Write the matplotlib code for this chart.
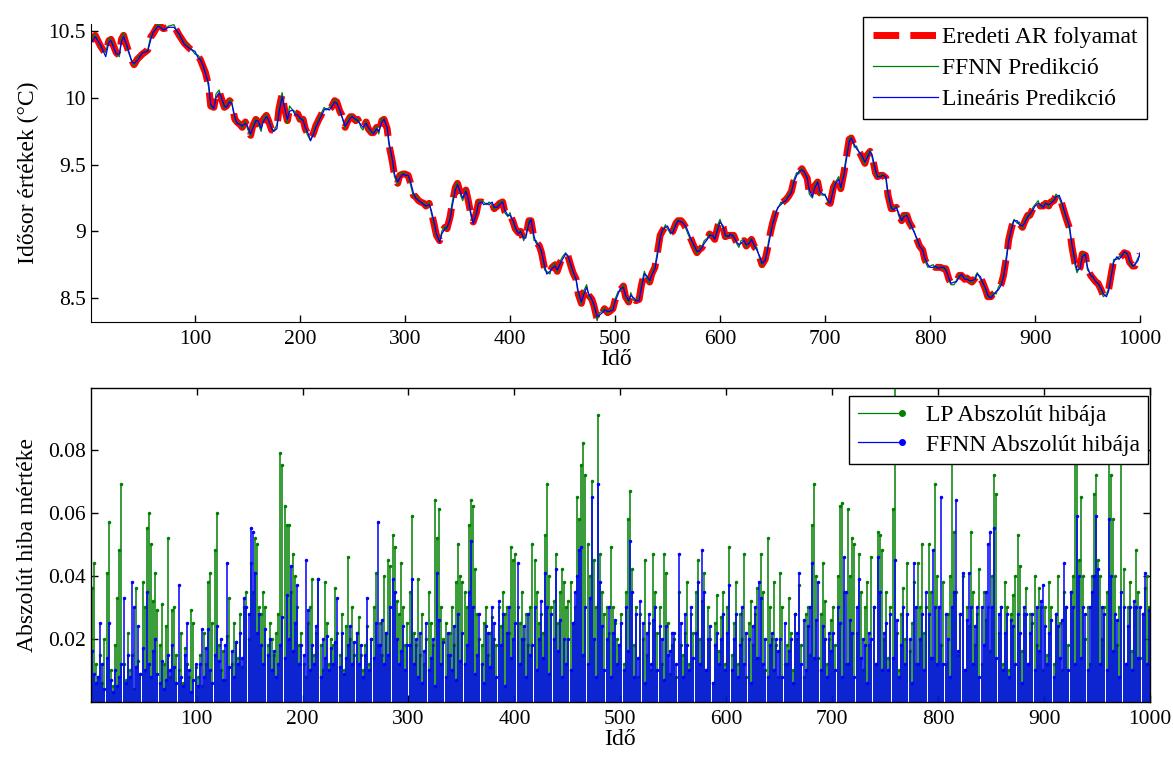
import matplotlib

matplotlib.use("Agg")
import matplotlib.pyplot as plt
import numpy as np
from matplotlib.legend_handler import HandlerBase
from matplotlib.lines import Line2D
from matplotlib.ticker import FormatStrFormatter

plt.rcParams["font.family"] = ["Liberation Serif", "DejaVu Serif"]
plt.rcParams["font.size"] = 15.5

# --- top panel: AR process and its two predictions ---
ar_t = [1, 5, 10, 15, 18, 20, 25, 28, 30, 32, 35, 40, 42, 45, 50, 55, 58, 60, 65, 70, 75, 80, 85, 90, 95] \
    + [d + k for d in range(100, 1000, 10) for k in (0, 3, 5, 8)] + [1000]

ar_v = [
    10.43, 10.47, 10.39, 10.33, 10.43, 10.44, 10.34, 10.32, 10.44, 10.47, 10.39, 10.28, 10.25, 10.29, 10.33,
    10.36, 10.46, 10.48, 10.55, 10.52, 10.53, 10.54, 10.47, 10.41, 10.37,
    10.34, 10.31, 10.29, 10.23, 10.19, 10.09, 9.94, 9.93, 10.02, 10.05, 10.00, 9.93, 9.94, 9.98, 9.96, 9.84, 9.82, 9.80, 9.78, 9.82,
    9.78, 9.72, 9.79, 9.84, 9.82, 9.76, 9.84, 9.87, 9.83, 9.76, 9.76, 9.78, 9.92, 10.03, 9.93, 9.83, 9.92, 9.90, 9.89, 9.88,
    9.84, 9.84, 9.77, 9.72, 9.69, 9.74, 9.79, 9.84, 9.87, 9.92, 9.92, 9.92, 9.93, 9.98, 9.97, 9.90, 9.87, 9.78, 9.82, 9.86,
    9.86, 9.83, 9.84, 9.79, 9.77, 9.82, 9.77, 9.74, 9.74, 9.78, 9.74, 9.83, 9.84, 9.77, 9.64, 9.52, 9.42, 9.36, 9.42, 9.43,
    9.43, 9.42, 9.37, 9.27, 9.26, 9.23, 9.22, 9.21, 9.19, 9.21, 9.15, 9.04, 8.97, 8.93, 8.99, 9.03, 9.02, 9.11, 9.21, 9.33,
    9.36, 9.28, 9.24, 9.31, 9.24, 9.12, 9.07, 9.14, 9.22, 9.22, 9.21, 9.21, 9.21, 9.21, 9.17, 9.19, 9.21, 9.22, 9.15, 9.12,
    9.13, 9.07, 9.02, 8.99, 9.00, 8.94, 8.96, 9.08, 9.08, 8.94, 8.92, 8.89, 8.84, 8.72, 8.69, 8.69, 8.73, 8.75, 8.70, 8.77,
    8.80, 8.83, 8.82, 8.74, 8.69, 8.64, 8.53, 8.46, 8.54, 8.58, 8.52, 8.49, 8.44, 8.34, 8.38, 8.39, 8.42, 8.39, 8.40, 8.42,
    8.48, 8.54, 8.56, 8.59, 8.51, 8.47, 8.53, 8.49, 8.48, 8.49, 8.59, 8.69, 8.66, 8.62, 8.68, 8.73, 8.82, 8.97, 9.00, 9.04,
    9.03, 8.99, 9.00, 9.06, 9.08, 9.08, 9.06, 9.02, 8.98, 8.93, 8.89, 8.84, 8.86, 8.88, 8.92, 8.94, 8.98, 8.96, 8.94, 9.04,
    9.08, 9.03, 8.96, 8.97, 8.97, 8.97, 8.93, 8.89, 8.92, 8.93, 8.89, 8.92, 8.94, 8.88, 8.87, 8.80, 8.75, 8.79, 8.86, 8.99,
    9.06, 9.14, 9.18, 9.21, 9.22, 9.24, 9.26, 9.30, 9.37, 9.43, 9.44, 9.47, 9.44, 9.40, 9.29, 9.26, 9.34, 9.37, 9.29, 9.28,
    9.27, 9.22, 9.21, 9.33, 9.36, 9.40, 9.32, 9.44, 9.54, 9.69, 9.70, 9.64, 9.63, 9.59, 9.56, 9.51, 9.57, 9.60, 9.56, 9.44,
    9.41, 9.42, 9.42, 9.40, 9.27, 9.17, 9.17, 9.18, 9.13, 9.08, 9.12, 9.12, 9.07, 9.03, 8.99, 8.93, 8.89, 8.86, 8.79, 8.74,
    8.73, 8.74, 8.73, 8.73, 8.73, 8.72, 8.72, 8.64, 8.61, 8.61, 8.62, 8.67, 8.67, 8.64, 8.65, 8.63, 8.62, 8.65, 8.68, 8.65,
    8.62, 8.56, 8.51, 8.51, 8.53, 8.54, 8.57, 8.61, 8.67, 8.82, 8.94, 9.04, 9.08, 9.07, 9.06, 9.03, 9.07, 9.12, 9.12, 9.17,
    9.19, 9.22, 9.19, 9.19, 9.21, 9.19, 9.22, 9.23, 9.27, 9.26, 9.22, 9.14, 9.09, 9.02, 8.89, 8.76, 8.70, 8.73, 8.83, 8.82,
    8.72, 8.67, 8.65, 8.62, 8.61, 8.56, 8.52, 8.52, 8.56, 8.70, 8.78, 8.80, 8.80, 8.82, 8.84, 8.83, 8.77, 8.74, 8.74, 8.79,
    8.83,
]

ffnn_v = [
    10.44, 10.48, 10.38, 10.34, 10.45, 10.45, 10.33, 10.31, 10.45, 10.49, 10.38, 10.27, 10.24, 10.30, 10.34,
    10.36, 10.47, 10.49, 10.56, 10.51, 10.54, 10.55, 10.46, 10.42, 10.38,
    10.33, 10.32, 10.30, 10.22, 10.20, 10.08, 9.93, 9.92, 10.03, 10.06, 10.00, 9.92, 9.95, 9.99, 9.97, 9.83, 9.81, 9.82, 9.77, 9.83,
    9.77, 9.71, 9.80, 9.85, 9.81, 9.75, 9.85, 9.88, 9.82, 9.78, 9.75, 9.80, 9.93, 10.04, 9.94, 9.81, 9.94, 9.91, 9.90, 9.87,
    9.83, 9.85, 9.76, 9.71, 9.68, 9.75, 9.80, 9.85, 9.88, 9.93, 9.91, 9.93, 9.94, 9.99, 9.98, 9.89, 9.86, 9.77, 9.83, 9.87,
    9.87, 9.82, 9.85, 9.78, 9.76, 9.83, 9.76, 9.73, 9.75, 9.79, 9.73, 9.85, 9.85, 9.76, 9.63, 9.51, 9.41, 9.35, 9.43, 9.44,
    9.44, 9.41, 9.36, 9.26, 9.27, 9.24, 9.21, 9.22, 9.18, 9.22, 9.14, 9.03, 8.96, 8.92, 9.00, 9.04, 9.01, 9.12, 9.22, 9.34,
    9.37, 9.27, 9.23, 9.32, 9.23, 9.11, 9.06, 9.15, 9.23, 9.23, 9.22, 9.20, 9.22, 9.20, 9.16, 9.20, 9.22, 9.23, 9.14, 9.11,
    9.14, 9.06, 9.01, 9.00, 9.01, 8.93, 8.97, 9.09, 9.07, 8.93, 8.93, 8.88, 8.83, 8.71, 8.70, 8.68, 8.74, 8.76, 8.69, 8.78,
    8.81, 8.84, 8.81, 8.73, 8.68, 8.63, 8.52, 8.45, 8.55, 8.60, 8.51, 8.48, 8.43, 8.33, 8.39, 8.40, 8.43, 8.38, 8.41, 8.43,
    8.49, 8.55, 8.55, 8.60, 8.50, 8.46, 8.54, 8.48, 8.49, 8.50, 8.60, 8.70, 8.65, 8.61, 8.69, 8.74, 8.83, 8.98, 8.99, 9.05,
    9.02, 8.98, 9.01, 9.07, 9.09, 9.07, 9.07, 9.01, 8.97, 8.92, 8.88, 8.83, 8.87, 8.89, 8.93, 8.95, 8.99, 8.95, 8.95, 9.05,
    9.09, 9.02, 8.95, 8.98, 8.96, 8.98, 8.92, 8.88, 8.93, 8.94, 8.88, 8.93, 8.95, 8.87, 8.88, 8.79, 8.74, 8.80, 8.87, 9.00,
    9.07, 9.15, 9.17, 9.22, 9.21, 9.25, 9.27, 9.31, 9.38, 9.44, 9.43, 9.48, 9.43, 9.41, 9.28, 9.25, 9.35, 9.38, 9.28, 9.27,
    9.28, 9.21, 9.22, 9.34, 9.37, 9.41, 9.31, 9.45, 9.55, 9.70, 9.71, 9.63, 9.64, 9.58, 9.55, 9.50, 9.58, 9.61, 9.55, 9.43,
    9.40, 9.43, 9.43, 9.39, 9.26, 9.16, 9.18, 9.19, 9.12, 9.07, 9.13, 9.13, 9.06, 9.02, 9.00, 8.92, 8.88, 8.87, 8.78, 8.73,
    8.74, 8.75, 8.72, 8.74, 8.74, 8.71, 8.73, 8.63, 8.60, 8.60, 8.63, 8.68, 8.66, 8.65, 8.66, 8.62, 8.61, 8.66, 8.69, 8.64,
    8.61, 8.55, 8.50, 8.52, 8.54, 8.53, 8.58, 8.62, 8.68, 8.83, 8.95, 9.05, 9.09, 9.06, 9.07, 9.02, 9.08, 9.13, 9.11, 9.18,
    9.20, 9.23, 9.18, 9.20, 9.22, 9.18, 9.23, 9.24, 9.28, 9.25, 9.21, 9.13, 9.08, 9.01, 8.88, 8.75, 8.69, 8.74, 8.84, 8.81,
    8.71, 8.68, 8.64, 8.63, 8.60, 8.55, 8.51, 8.53, 8.57, 8.71, 8.79, 8.79, 8.81, 8.83, 8.83, 8.84, 8.76, 8.73, 8.75, 8.80,
    8.82,
]

lp_v = [
    10.41, 10.46, 10.40, 10.31, 10.42, 10.43, 10.33, 10.33, 10.42, 10.46, 10.40, 10.27, 10.26, 10.28, 10.34,
    10.35, 10.44, 10.49, 10.54, 10.51, 10.53, 10.53, 10.48, 10.40, 10.37,
    10.35, 10.30, 10.29, 10.24, 10.18, 10.11, 9.95, 9.92, 10.00, 10.04, 10.01, 9.94, 9.93, 9.97, 9.96, 9.86, 9.81, 9.80, 9.79, 9.81,
    9.79, 9.73, 9.77, 9.83, 9.83, 9.77, 9.82, 9.86, 9.84, 9.77, 9.75, 9.77, 9.89, 10.01, 9.94, 9.84, 9.90, 9.91, 9.88, 9.87,
    9.85, 9.83, 9.78, 9.73, 9.68, 9.73, 9.78, 9.83, 9.86, 9.91, 9.92, 9.91, 9.93, 9.97, 9.96, 9.91, 9.86, 9.79, 9.81, 9.85,
    9.86, 9.84, 9.83, 9.80, 9.78, 9.81, 9.78, 9.75, 9.73, 9.77, 9.75, 9.82, 9.84, 9.78, 9.66, 9.54, 9.43, 9.37, 9.40, 9.43,
    9.42, 9.42, 9.38, 9.29, 9.25, 9.23, 9.22, 9.20, 9.19, 9.20, 9.16, 9.06, 8.98, 8.92, 8.98, 9.02, 9.03, 9.09, 9.19, 9.31,
    9.35, 9.29, 9.25, 9.30, 9.25, 9.13, 9.06, 9.13, 9.21, 9.22, 9.20, 9.21, 9.20, 9.22, 9.18, 9.18, 9.20, 9.22, 9.16, 9.12,
    9.12, 9.08, 9.03, 8.98, 9.00, 8.95, 8.95, 9.06, 9.09, 8.96, 8.91, 8.89, 8.85, 8.74, 8.68, 8.70, 8.72, 8.74, 8.71, 8.76,
    8.79, 8.83, 8.82, 8.75, 8.70, 8.64, 8.55, 8.47, 8.52, 8.58, 8.53, 8.49, 8.45, 8.36, 8.37, 8.39, 8.41, 8.40, 8.40, 8.41,
    8.47, 8.53, 8.57, 8.58, 8.52, 8.48, 8.52, 8.50, 8.48, 8.48, 8.57, 8.68, 8.67, 8.63, 8.67, 8.72, 8.80, 8.95, 9.01, 9.03,
    9.04, 8.99, 8.99, 9.05, 9.08, 9.07, 9.06, 9.03, 8.99, 8.93, 8.90, 8.85, 8.85, 8.88, 8.91, 8.94, 8.97, 8.97, 8.94, 9.02,
    9.07, 9.04, 8.97, 8.96, 8.98, 8.96, 8.93, 8.90, 8.91, 8.93, 8.90, 8.91, 8.94, 8.89, 8.86, 8.81, 8.76, 8.78, 8.85, 8.97,
    9.05, 9.13, 9.18, 9.20, 9.22, 9.23, 9.26, 9.29, 9.36, 9.42, 9.45, 9.46, 9.45, 9.40, 9.31, 9.26, 9.32, 9.37, 9.30, 9.28,
    9.27, 9.23, 9.21, 9.31, 9.36, 9.39, 9.33, 9.42, 9.52, 9.67, 9.70, 9.65, 9.62, 9.59, 9.57, 9.52, 9.55, 9.60, 9.57, 9.46,
    9.41, 9.41, 9.42, 9.41, 9.29, 9.18, 9.16, 9.18, 9.14, 9.08, 9.11, 9.12, 9.08, 9.03, 8.99, 8.94, 8.89, 8.86, 8.80, 8.75,
    8.73, 8.73, 8.74, 8.72, 8.73, 8.73, 8.71, 8.65, 8.61, 8.62, 8.62, 8.66, 8.68, 8.64, 8.64, 8.63, 8.63, 8.64, 8.68, 8.66,
    8.62, 8.57, 8.52, 8.50, 8.52, 8.55, 8.56, 8.60, 8.66, 8.80, 8.93, 9.03, 9.08, 9.08, 9.05, 9.04, 9.06, 9.11, 9.13, 9.16,
    9.19, 9.21, 9.20, 9.18, 9.21, 9.20, 9.21, 9.23, 9.26, 9.27, 9.23, 9.15, 9.10, 9.03, 8.91, 8.78, 8.71, 8.72, 8.81, 8.83,
    8.73, 8.67, 8.66, 8.62, 8.61, 8.57, 8.53, 8.51, 8.55, 8.68, 8.77, 8.81, 8.79, 8.82, 8.85, 8.83, 8.78, 8.74, 8.75, 8.78,
    8.84,
]

# --- bottom panel: absolute errors, every second time step ---
err_t = list(range(1, 1000, 2))

lp_err = [
    .036, .044, .012, .008, .015, .006, .020, .041, .057, .010, .005, .018, .033, .048, .069, .012, .007, .022, .010, .015, .004, .036, .013, .009, .038,
    .030, .055, .060, .050, .032, .041, .029, .018, .031, .012, .024, .052, .008, .029, .030, .015, .010, .022, .006, .017, .012, .008, .029, .025, .011,
    .008, .015, .005, .022, .012, .038, .041, .025, .048, .060, .018, .010, .016, .007, .021, .033, .012, .025, .019, .014, .028, .011, .030, .035, .020,
    .044, .035, .052, .050, .030, .028, .035, .030, .018, .025, .020, .015, .022, .028, .079, .075, .062, .056, .056, .035, .047, .040, .030, .018, .022,
    .012, .008, .025, .030, .039, .015, .022, .039, .018, .010, .038, .025, .012, .020, .018, .036, .022, .015, .028, .010, .024, .046, .020, .030, .015,
    .022, .027, .015, .010, .018, .024, .012, .020, .030, .041, .018, .025, .015, .040, .022, .045, .043, .053, .049, .032, .028, .044, .030, .018, .025,
    .035, .059, .022, .018, .039, .015, .028, .012, .020, .035, .025, .018, .064, .052, .061, .030, .020, .025, .015, .022, .030, .018, .038, .050, .040,
    .038, .035, .030, .056, .064, .062, .042, .028, .020, .018, .025, .030, .015, .022, .027, .020, .018, .030, .024, .035, .028, .030, .022, .049, .045,
    .047, .030, .025, .035, .020, .028, .018, .030, .050, .045, .035, .025, .028, .022, .053, .069, .040, .030, .032, .047, .025, .035, .042, .038, .030,
    .032, .038, .025, .030, .065, .058, .075, .082, .072, .050, .040, .070, .045, .030, .091, .047, .035, .028, .030, .022, .049, .030, .025, .020, .018,
    .028, .012, .035, .058, .067, .042, .018, .030, .008, .028, .020, .045, .015, .025, .010, .047, .035, .022, .030, .012, .047, .041, .025, .009, .018,
    .020, .008, .035, .018, .015, .022, .038, .012, .028, .022, .035, .045, .020, .032, .041, .010, .030, .020, .006, .025, .034, .016, .027, .035, .012,
    .030, .049, .015, .025, .038, .012, .028, .020, .047, .008, .025, .032, .018, .028, .036, .014, .047, .035, .010, .052, .030, .020, .038, .018, .008,
    .041, .030, .012, .018, .033, .022, .010, .028, .020, .037, .018, .008, .028, .030, .015, .056, .069, .040, .014, .028, .044, .032, .012, .020, .026,
    .030, .018, .040, .062, .063, .035, .012, .061, .040, .052, .050, .022, .047, .035, .010, .030, .038, .018, .046, .030, .012, .054, .053, .048, .020,
    .035, .014, .030, .061, .102, .022, .010, .028, .036, .020, .044, .016, .025, .038, .012, .044, .030, .050, .022, .030, .050, .035, .014, .069, .040,
    .030, .018, .038, .012, .028, .040, .085, .054, .035, .015, .028, .040, .010, .030, .024, .054, .035, .018, .028, .042, .012, .035, .026, .030, .016,
    .040, .072, .066, .022, .030, .012, .038, .030, .010, .028, .034, .040, .053, .043, .016, .028, .036, .012, .028, .025, .040, .018, .036, .030, .010,
    .030, .015, .038, .030, .012, .028, .040, .025, .010, .035, .030, .018, .035, .040, .085, .080, .045, .065, .040, .020, .030, .012, .040, .066, .072,
    .045, .040, .020, .030, .035, .078, .072, .058, .040, .018, .030, .080, .042, .012, .030, .038, .016, .030, .048, .035, .014, .028, .036, .040, .030,
]

ffnn_err = [
    .016, .009, .006, .008, .025, .012, .004, .014, .025, .007, .003, .010, .005, .008, .012, .033, .006, .015, .008, .038, .030, .011, .024, .009, .017,
    .010, .035, .012, .008, .016, .020, .009, .006, .013, .004, .007, .015, .010, .018, .011, .006, .037, .008, .005, .015, .025, .010, .003, .007, .012,
    .005, .012, .023, .008, .017, .023, .010, .006, .015, .024, .013, .020, .007, .018, .044, .011, .016, .008, .019, .012, .022, .014, .033, .030, .028,
    .055, .054, .041, .022, .028, .018, .012, .023, .015, .020, .010, .016, .008, .012, .018, .027, .014, .034, .020, .043, .016, .025, .037, .012, .018,
    .015, .045, .029, .010, .018, .012, .024, .039, .008, .020, .014, .021, .010, .017, .012, .019, .033, .011, .022, .009, .014, .018, .024, .012, .019,
    .022, .012, .018, .008, .015, .033, .010, .020, .014, .025, .057, .018, .026, .012, .022, .015, .030, .039, .035, .020, .012, .016, .024, .010, .018,
    .018, .039, .012, .020, .008, .022, .006, .016, .025, .010, .014, .020, .005, .041, .026, .012, .019, .008, .022, .015, .010, .024, .007, .028, .013,
    .022, .012, .018, .035, .051, .030, .009, .015, .028, .012, .006, .024, .022, .011, .030, .025, .008, .032, .018, .028, .005, .022, .030, .014, .020,
    .025, .044, .012, .020, .024, .008, .028, .015, .018, .030, .010, .020, .032, .014, .041, .030, .009, .028, .020, .042, .016, .026, .008, .020, .012,
    .020, .010, .025, .035, .040, .048, .049, .015, .030, .012, .033, .065, .020, .008, .069, .038, .024, .010, .020, .030, .008, .022, .026, .012, .018,
    .025, .010, .030, .016, .051, .035, .008, .028, .014, .032, .025, .006, .022, .028, .012, .026, .030, .010, .024, .020, .007, .024, .015, .016, .022,
    .022, .012, .047, .025, .008, .028, .018, .010, .030, .014, .022, .038, .012, .048, .035, .010, .020, .024, .006, .018, .022, .012, .020, .028, .010,
    .022, .037, .010, .020, .028, .008, .018, .030, .012, .022, .020, .006, .024, .030, .014, .038, .033, .012, .020, .008, .018, .022, .010, .020, .016,
    .020, .008, .025, .012, .016, .020, .006, .028, .022, .041, .012, .026, .010, .024, .030, .044, .014, .026, .038, .010, .024, .020, .008, .022, .016,
    .022, .010, .030, .025, .008, .046, .035, .012, .026, .022, .008, .030, .039, .014, .020, .018, .006, .022, .020, .030, .012, .046, .035, .010, .022,
    .025, .010, .028, .014, .045, .026, .008, .018, .030, .012, .028, .020, .006, .044, .030, .012, .020, .028, .010, .035, .028, .014, .048, .030, .012,
    .030, .065, .012, .028, .020, .008, .030, .035, .064, .016, .028, .041, .010, .026, .041, .030, .012, .024, .030, .008, .030, .018, .035, .050, .054,
    .030, .055, .014, .028, .030, .010, .022, .028, .008, .026, .024, .012, .028, .022, .006, .030, .028, .012, .022, .028, .010, .030, .016, .032, .037,
    .024, .012, .022, .026, .008, .028, .024, .014, .026, .044, .030, .010, .035, .030, .012, .059, .040, .014, .030, .028, .010, .030, .035, .040, .059,
    .042, .012, .030, .028, .010, .058, .040, .016, .028, .026, .008, .035, .030, .012, .024, .030, .010, .032, .030, .014, .030, .028, .041, .012, .029,
]

RED, GREEN, BLUE = "#ff0000", "#008000", "#0000ff"
LABEL_SIZE = 17


class StemHandle(HandlerBase):
    """legend entry like MATLAB's stem: a line with the marker at its right end"""

    def create_artists(self, legend, orig, xdescent, ydescent, width, height, fontsize, trans):
        y = (height - ydescent) / 2
        line = Line2D([-xdescent, width - xdescent], [y, y], color=orig.get_color(),
                      lw=orig.get_linewidth(), transform=trans)
        dot = Line2D([width - xdescent], [y], color=orig.get_color(), ls="none",
                     marker="o", ms=4, transform=trans)
        return [line, dot]


fig = plt.figure(figsize=(11.73, 7.57), dpi=100)
ax1 = fig.add_axes([0.0776, 0.5746, 0.8943, 0.3937])
ax2 = fig.add_axes([0.0773, 0.0727, 0.9031, 0.4148])

# top panel
ax1.plot(ar_t, ar_v, color=RED, lw=5, ls="--", label="Eredeti AR folyamat")
ax1.plot(ar_t, ffnn_v, color=GREEN, lw=0.9, label="FFNN Predikció")
ax1.plot(ar_t, lp_v, color=BLUE, lw=0.9, label="Lineáris Predikció")
ax1.set_xlim(1, 1000)
ax1.set_ylim(8.32, 10.555)
ax1.set_xticks(range(100, 1001, 100))
ax1.set_yticks([8.5, 9, 9.5, 10, 10.5])
ax1.yaxis.set_major_formatter(FormatStrFormatter("%g"))
ax1.spines["top"].set_visible(False)
ax1.spines["right"].set_visible(False)
ax1.tick_params(direction="in", length=5, width=1)
ax1.tick_params(axis="x", pad=6)
ax1.set_xlabel("Idő", fontsize=LABEL_SIZE, labelpad=0)
ax1.set_ylabel("Idősor értékek (°C)", fontsize=LABEL_SIZE, labelpad=7)
ax1.legend(loc="upper right", bbox_to_anchor=(0.978, 0.9775), bbox_transform=fig.transFigure,
           borderaxespad=0, fancybox=False, edgecolor="black", framealpha=1, fontsize=LABEL_SIZE,
           handlelength=2.75, handletextpad=0.2, labelspacing=0.4, borderpad=0.4)

# bottom panel
ax2.vlines(err_t, 0, lp_err, color=GREEN, lw=1.1)
ax2.plot(err_t, lp_err, ls="none", marker=".", ms=3, color=GREEN)
ax2.vlines(err_t, 0, ffnn_err, color=BLUE, lw=1.1)
ax2.plot(err_t, ffnn_err, ls="none", marker=".", ms=3, color=BLUE)
ax2.set_xlim(0, 1000)
ax2.set_ylim(0, 0.0995)
ax2.set_xticks(range(100, 1001, 100))
ax2.set_yticks([0.02, 0.04, 0.06, 0.08])
ax2.yaxis.set_major_formatter(FormatStrFormatter("%g"))
ax2.tick_params(direction="in", length=5, width=1, top=True, right=True)
ax2.tick_params(axis="x", pad=6)
ax2.set_xlabel("Idő", fontsize=LABEL_SIZE, labelpad=0)
ax2.set_ylabel("Abszolút hiba mértéke", fontsize=LABEL_SIZE, labelpad=7)
for sp in ax2.spines.values():
    sp.set_linewidth(1)

h_lp = Line2D([], [], color=GREEN, lw=0.9)
h_ffnn = Line2D([], [], color=BLUE, lw=0.9)
ax2.legend([h_lp, h_ffnn], ["LP Abszolút hibája", "FFNN Abszolút hibája"],
           handler_map={Line2D: StemHandle()}, fontsize=LABEL_SIZE,
           loc="upper right", bbox_to_anchor=(0.979, 0.4769), bbox_transform=fig.transFigure,
           borderaxespad=0, fancybox=False, edgecolor="black", framealpha=1,
           handlelength=1.9, handletextpad=1.0, labelspacing=0.35, borderpad=0.35)

fig.savefig("out.png", dpi=100)
